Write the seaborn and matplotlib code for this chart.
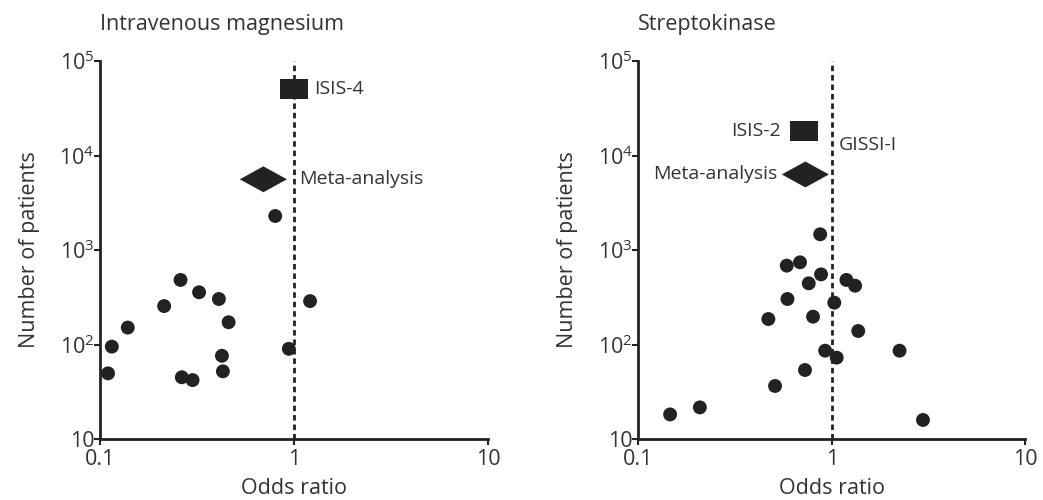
import numpy as np
import pandas as pd
import seaborn as sns
import matplotlib.pyplot as plt
from matplotlib.path import Path

# Magnesio endovenoso: ensaios individuais
mg_or = [0.80, 0.26, 0.324, 0.41, 0.214, 1.21, 0.46, 0.139, 0.115, 0.94,
         0.425, 0.110, 0.43, 0.264, 0.30]
mg_n = [2290, 482, 357, 303, 255, 288, 172, 151, 95, 90,
        76, 49.5, 52, 45, 42]
mg_big_or = [1.0]        # ISIS-4
mg_big_n = [51000]
mg_meta_or = [0.695]
mg_meta_n = [5600]

# Estreptoquinase: ensaios individuais
sk_or = [0.146, 0.208, 0.509, 0.727, 0.924, 1.06, 2.24, 2.96, 1.37, 0.47,
         0.80, 1.03, 0.59, 0.76, 1.19, 1.32, 0.88, 0.585, 0.685, 0.871]
sk_n = [18.2, 21.6, 36.4, 53.7, 86, 72.6, 86, 15.9, 139, 186,
        197, 277, 303, 444, 482, 419, 552, 683, 741, 1466]
sk_big_or = [0.72]       # ISIS-2
sk_big_n = [18150]
sk_meta_or = [0.73]
sk_meta_n = [6300]

x_ticks = [0.1, 1, 10]
x_labels = ["0.1", "1", "10"]
y_ticks = [10, 100, 1000, 10000, 100000]
y_labels = ["10", "$10^2$", "$10^3$", "$10^4$", "$10^5$"]

sns.set_style("white")
plt.rcParams['font.family'] = ['Open Sans', 'DejaVu Sans']
plt.rcParams['mathtext.fontset'] = 'custom'
plt.rcParams['mathtext.rm'] = 'Open Sans'
plt.rcParams['mathtext.it'] = 'Open Sans'
plt.rcParams['mathtext.default'] = 'regular'
ink = "#222222"
txt = "#333333"

rect = Path([(-1, -0.72), (1, -0.72), (1, 0.72), (-1, 0.72), (-1, -0.72)],
            [Path.MOVETO, Path.LINETO, Path.LINETO, Path.LINETO, Path.CLOSEPOLY])
diamond = Path([(-1, 0), (0, 0.55), (1, 0), (0, -0.55), (-1, 0)],
               [Path.MOVETO, Path.LINETO, Path.LINETO, Path.LINETO, Path.CLOSEPOLY])

fig = plt.figure(figsize=(10.43, 5), dpi=100)
ax1 = fig.add_axes([0.0959, 0.122, 0.372, 0.756])
ax2 = fig.add_axes([0.612, 0.122, 0.371, 0.756])


def panel(ax, title, tri_or, tri_n, big_or, big_n, meta_or, meta_n):
    trials = pd.DataFrame({"or": tri_or, "n": tri_n})
    big = pd.DataFrame({"or": big_or, "n": big_n})
    meta = pd.DataFrame({"or": meta_or, "n": meta_n})
    ax.set_xscale("log")
    ax.set_yscale("log")
    ax.plot([1, 1], [10, 100000], color=ink, lw=2, ls=(0, (2.0, 1.4)), zorder=1)
    sns.scatterplot(data=trials, x="or", y="n", ax=ax, s=100, color=ink,
                    edgecolor="none", marker="o", zorder=3)
    sns.scatterplot(data=big, x="or", y="n", ax=ax, s=400, color=ink,
                    edgecolor="none", marker=rect, zorder=3)
    sns.scatterplot(data=meta, x="or", y="n", ax=ax, s=1150, color=ink,
                    edgecolor="none", marker=diamond, zorder=3)
    ax.set_xlim(0.1, 10)
    ax.set_ylim(10, 100000)
    ax.set_xticks(x_ticks, x_labels)
    ax.set_yticks(y_ticks, y_labels)
    ax.minorticks_off()
    for s in ["top", "right"]:
        ax.spines[s].set_visible(False)
    for s in ["left", "bottom"]:
        ax.spines[s].set_linewidth(2)
        ax.spines[s].set_color(ink)
    ax.tick_params(axis="both", which="major", length=4, width=1.5, color=ink,
                   labelsize=15.5, labelcolor=txt, left=True, bottom=True)
    ax.tick_params(axis="x", pad=3)
    ax.tick_params(axis="y", pad=0)
    ax.set_xlabel("Odds ratio", fontsize=15.5, color=txt, labelpad=6)
    ax.set_ylabel("Number of patients", fontsize=15.5, color=txt, labelpad=14)
    ax.set_title(title, loc="left", fontsize=15.5, color=txt, pad=22)
    return big, meta


big, meta = panel(ax1, "Intravenous magnesium", mg_or, mg_n, mg_big_or, mg_big_n,
                  mg_meta_or, mg_meta_n)
ax1.annotate("ISIS-4", (big["or"][0], big["n"][0]), xytext=(20, 0),
             textcoords="offset pixels", va="center", ha="left", fontsize=14, color=txt)
ax1.annotate("Meta-analysis", (1, meta["n"][0]), xytext=(5, 0),
             textcoords="offset pixels", va="center", ha="left", fontsize=14, color=txt)

big, meta = panel(ax2, "Streptokinase", sk_or, sk_n, sk_big_or, sk_big_n,
                  sk_meta_or, sk_meta_n)
ax2.annotate("ISIS-2", (big["or"][0], big["n"][0]), xytext=(-23, 0),
             textcoords="offset pixels", va="center", ha="right", fontsize=14, color=txt)
ax2.annotate("GISSI-I", (1, big["n"][0]), xytext=(7, -14),
             textcoords="offset pixels", va="center", ha="left", fontsize=14, color=txt)
ax2.annotate("Meta-analysis", (meta["or"][0], meta["n"][0]), xytext=(-28, 0),
             textcoords="offset pixels", va="center", ha="right", fontsize=14, color=txt)

plt.savefig("out.png", dpi=100)
